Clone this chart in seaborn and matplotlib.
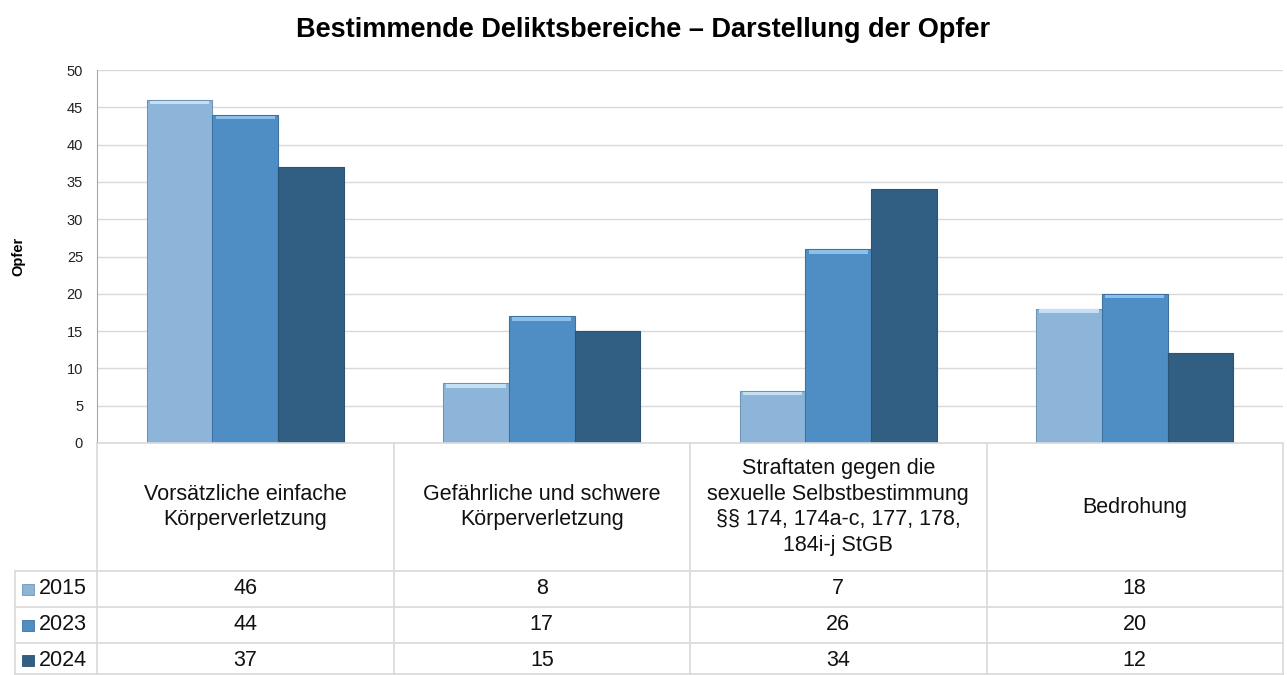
import matplotlib
matplotlib.use("Agg")
import matplotlib.pyplot as plt
import matplotlib.transforms as mtransforms
from matplotlib.patches import Rectangle
import seaborn as sns
import pandas as pd

# ---------- data ----------
categories = [
    "Vorsätzliche einfache\nKörperverletzung",
    "Gefährliche und schwere\nKörperverletzung",
    "Straftaten gegen die\nsexuelle Selbstbestimmung\n§§ 174, 174a-c, 177, 178,\n184i-j StGB",
    "Bedrohung",
]
years = ["2015", "2023", "2024"]
values_2015 = [46, 8, 7, 18]
values_2023 = [44, 17, 26, 20]
values_2024 = [37, 15, 34, 12]
y_ticks = list(range(0, 55, 5))

colors = ["#8db5d9", "#4f8ec4", "#315e83"]
edge_colors = ["#6f93b5", "#3d72a0", "#2b5373"]
top_colors = ["#c4def3", "#8cc0ea", "#315e83"]

series = [values_2015, values_2023, values_2024]
df = pd.DataFrame({
    "cat": [c for _ in years for c in categories],
    "year": [y for y in years for _ in categories],
    "value": [v for s in series for v in s],
})

# ---------- style ----------
sns.set_style("white")
plt.rcParams["font.family"] = ["Liberation Sans", "DejaVu Sans"]

W, H = 1287, 675
fig = plt.figure(figsize=(W / 100, H / 100), dpi=100)


def fx(x):
    return x / W


def fy(y):
    return 1 - y / H


ax_left, ax_right, ax_top, ax_bottom = 97, 1283, 70, 443
ax = fig.add_axes([fx(ax_left), fy(ax_bottom), fx(ax_right - ax_left), fy(ax_top) - fy(ax_bottom)])

sns.barplot(data=df, x="cat", y="value", hue="year", hue_order=years,
            palette=colors, width=0.665, gap=0, ax=ax, legend=False,
            saturation=1, zorder=3)

# edge and bevel-like highlight on bars
for i, cont in enumerate(ax.containers):
    for bar in cont:
        bar.set_edgecolor(edge_colors[i])
        bar.set_linewidth(0.8)
        if i < 2:
            x0, w, h = bar.get_x(), bar.get_width(), bar.get_height()
            ax.add_patch(Rectangle((x0 + w * 0.05, h - 0.6), w * 0.9, 0.5,
                                   facecolor=top_colors[i], edgecolor="none", zorder=4))

ax.set_xlim(-0.5, len(categories) - 0.5)
ax.set_ylim(0, 50)
ax.set_yticks(y_ticks)
ax.tick_params(axis="y", labelsize=10.5, pad=10, length=0, colors="#222222")
ax.set_xticks([])
ax.set_xlabel("")
ax.set_ylabel("")
ax.yaxis.grid(True, color="#d9d9d9", linewidth=1, zorder=0)
for side in ["top", "right", "bottom"]:
    ax.spines[side].set_visible(False)
ax.spines["left"].set_color("#a6a6a6")

# title and y label
fig.text(0.5, fy(30), "Bestimmende Deliktsbereiche – Darstellung der Opfer",
         ha="center", va="center", fontsize=19.5, fontweight="bold", color="black")
fig.text(fx(18), fy(256), "Opfer", rotation=90, ha="center", va="center",
         fontsize=10.5, fontweight="bold", color="black")

# ---------- data table below the axis ----------
line_kw = dict(color="#d9d9d9", linewidth=1.2, clip_on=False)
trans = mtransforms.blended_transform_factory(ax.transData, fig.transFigure)

row_lines = [443, 571, 607, 643, 674]
for i, yy in enumerate(row_lines):
    x_start = ax_left if i == 0 else 15
    fig.add_artist(plt.Line2D([fx(x_start), fx(ax_right)], [fy(yy), fy(yy)], **line_kw))

# vertical separators
fig.add_artist(plt.Line2D([fx(15), fx(15)], [fy(571), fy(675)], **line_kw))
for b in range(len(categories) + 1):
    xb = b - 0.5
    ax.plot([xb, xb], [fy(443), fy(675)], transform=trans, **line_kw)

for k, cat in enumerate(categories):
    ax.text(k, fy(507), cat, transform=trans, ha="center", va="center",
            fontsize=15.5, linespacing=1.3, color="#111111")

row_centers = [589, 625, 660]
for i, (yr, vals) in enumerate(zip(years, series)):
    yc = fy(row_centers[i])
    fig.add_artist(Rectangle((fx(22), yc - 5.5 / H), 12 / W, 11 / H,
                             facecolor=colors[i], edgecolor=edge_colors[i],
                             linewidth=0.6, transform=fig.transFigure))
    fig.text(fx(39), yc, yr, ha="left", va="center", fontsize=15.5, color="#111111")
    for k, v in enumerate(vals):
        ax.text(k, yc, str(v), transform=trans, ha="center", va="center",
                fontsize=15.5, color="#111111")

fig.savefig("out.png", dpi=100)
